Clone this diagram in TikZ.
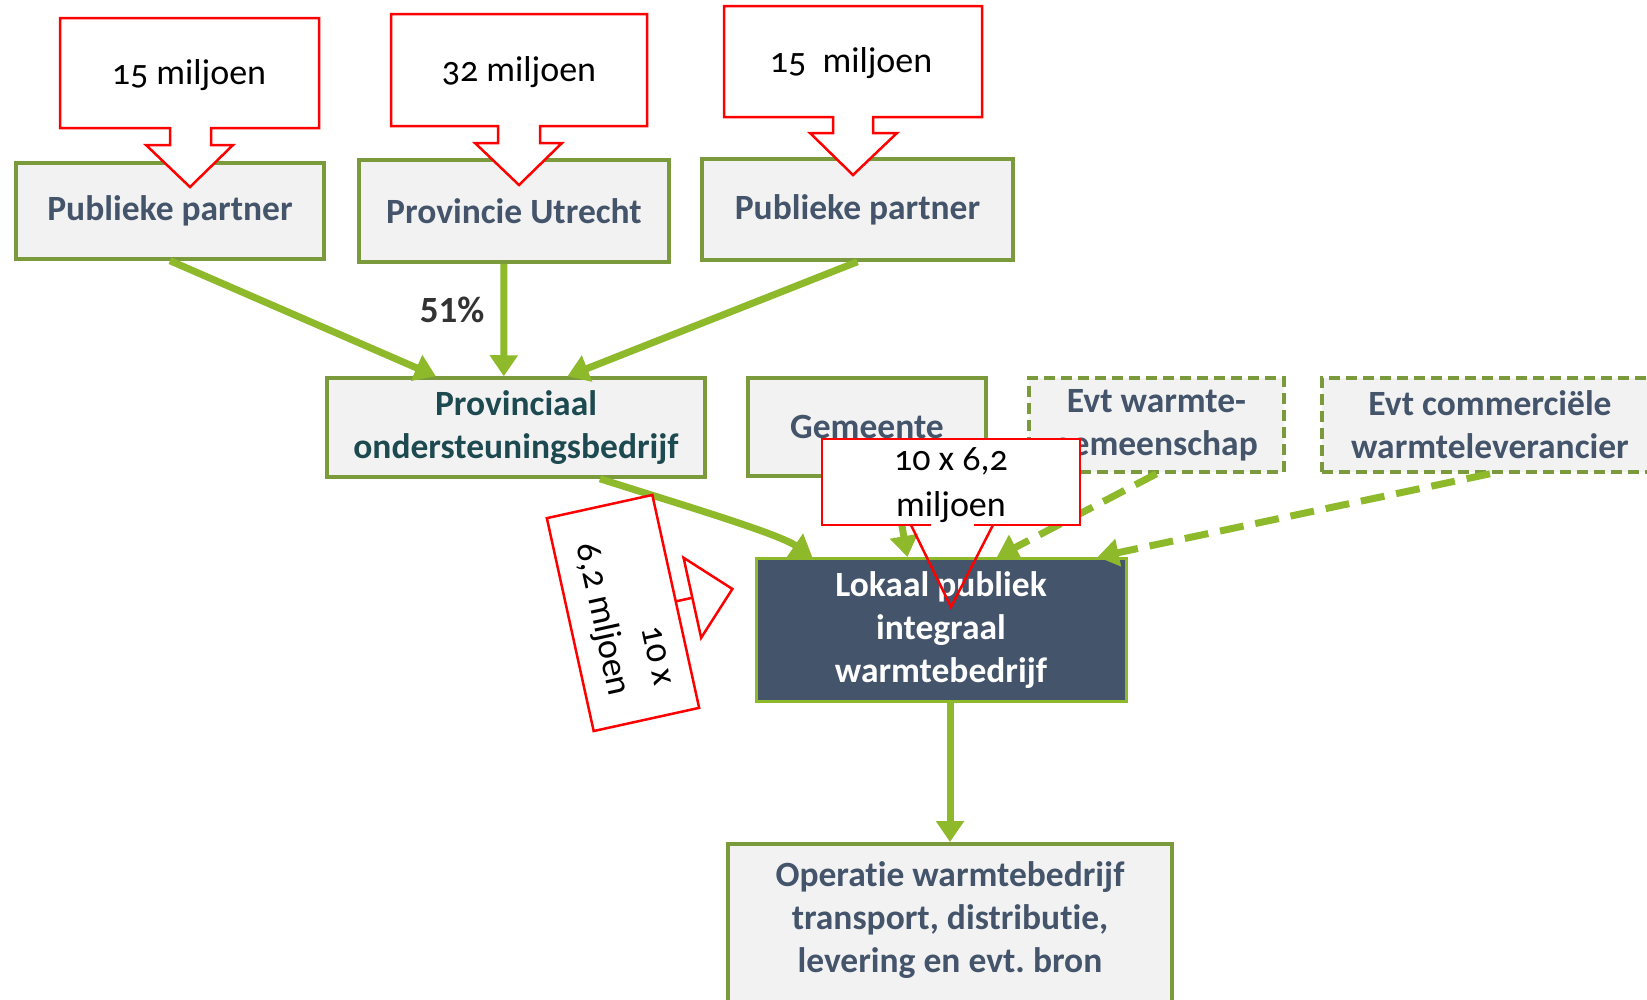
\documentclass[tikz,border=0pt]{standalone}
\usepackage{fontspec}
\setmainfont{Carlito}[Ligatures=NoCommon]
\newfontfamily\calloutfont[Numbers=OldStyle,Ligatures=NoCommon]{Carlito}
\frenchspacing
\usetikzlibrary{arrows.meta,calc}
\definecolor{arrowgreen}{HTML}{8DB92B}
\definecolor{boxborder}{HTML}{7A9A3C}
\definecolor{boxfill}{HTML}{F2F2F2}
\definecolor{slate}{HTML}{44546A}
\definecolor{provteal}{HTML}{1D4A50}
\definecolor{calloutred}{HTML}{FF0000}
\tikzset{
  box/.style={draw=boxborder, fill=boxfill, line width=3.5pt, inner sep=0pt,
    font=\bfseries\fontsize{35.5}{43}\selectfont, text=slate, align=center},
  dbox/.style={box, dash pattern=on 11pt off 6pt},
  garrow/.style={draw=arrowgreen, line width=7pt, -{Triangle[length=21pt,width=27pt]}},
  gdash/.style={garrow, dash pattern=on 24pt off 12pt},
  callout/.style={draw=calloutred, fill=white, line width=2.5pt},
  cline/.style={draw=calloutred, line width=2.5pt},
  ctext/.style={font=\calloutfont\fontsize{36}{46}\selectfont, text=black, align=center, inner sep=0pt}
}
\begin{document}
\begin{tikzpicture}[x=1pt,y=-1pt]
\useasboundingbox (0,0) rectangle (1647,999);
\clip (0,0) rectangle (1647,999);
\fill[white] (0,0) rectangle (1647,999);

% boxes
\node[box, minimum width=308pt, minimum height=96pt] (pp1) at (170,211) {Publieke partner};
\node[box, minimum width=310pt, minimum height=102pt] (pu) at (514,211) {Provincie Utrecht};
\node[box, minimum width=311pt, minimum height=101pt] (pp2) at (857.5,209.5) {Publieke partner};
\node[box, text=provteal, minimum width=378pt, minimum height=99pt] (prov) at (516,427.5) {Provinciaal\\ondersteuningsbedrijf};
\node[box, minimum width=238pt, minimum height=98pt] (gem) at (867,427) {Gemeente};
\node[dbox, minimum width=255pt, minimum height=94pt] (evtw) at (1156.5,425) {Evt warmte-\\gemeenschap};
\node[dbox, minimum width=336pt, minimum height=94pt] (evtc) at (1490,425) {Evt commerciële\\warmteleverancier};
\node[box, fill=slate, draw=arrowgreen, line width=3pt, text=white, minimum width=370pt, minimum height=143pt] (lok) at (941,630) {Lokaal publiek\\integraal\\warmtebedrijf};
\node[box, minimum width=444pt, minimum height=180pt, anchor=north] (op) at (950,842) {};
\node[font=\bfseries\fontsize{35.5}{43}\selectfont, text=slate, align=center, inner sep=0pt] (optext) at (950,920) {Operatie warmtebedrijf\\transport, distributie,\\levering en evt. bron};
\node[font=\bfseries\fontsize{37}{40}\selectfont, text=black!80, inner sep=0pt] (pct) at (452,310) {51\%};

% green connectors
\draw[garrow] (pp1.south) -- ($(prov.north west)!0.29!(prov.north east)$);
\draw[garrow] ($(pu.south west)!0.468!(pu.south east)$) -- ($(prov.north west)!0.468!(prov.north east)$);
\draw[garrow] (pp2.south) -- ($(prov.north west)!0.635!(prov.north east)$);
\draw[garrow] ($(prov.south west)!0.72!(prov.south east)$) .. controls +(75,24) and +(-35,-24) .. ($(lok.north west)!0.155!(lok.north east)$);
\draw[garrow] ($(gem.south west)!0.61!(gem.south east)$) -- ($(lok.north west)!0.41!(lok.north east)$);
\draw[gdash] (evtw.south) -- ($(lok.north west)!0.65!(lok.north east)$);
\draw[gdash] (evtc.south) -- ($(lok.north west)!0.92!(lok.north east)$);
\draw[garrow] (lok.south -| op.north) -- (op.north);

% red callouts
\draw[callout] (60,18) -- (319,18) -- (319,128) -- (211,128) -- (211,145) -- (233,145) -- (190,187) -- (146,145) -- (170,145) -- (170,128) -- (60,128) -- cycle;
\node[ctext] (c1) at (189,75) {15 miljoen};

\draw[callout] (391,14) -- (647,14) -- (647,126) -- (540,126) -- (540,143) -- (562,143) -- (519,185) -- (475,143) -- (498,143) -- (498,126) -- (391,126) -- cycle;
\node[ctext] (c2) at (519,72) {32 miljoen};

\draw[callout] (724,6) -- (982,6) -- (982,117) -- (873,117) -- (873,133) -- (897,133) -- (853,175) -- (810,133) -- (833,133) -- (833,117) -- (724,117) -- cycle;
\node[ctext] (c3) at (851,63) {15~~miljoen};

\fill[white] (822,439) rectangle (1080,525);
\draw[cline] (931,525) -- (822,525) -- (822,439) -- (1080,439) -- (1080,525) -- (974,525);
\draw[cline] (911,525) -- (951,607) -- (993,525);
\node[ctext] (c4) at (951,485) {10 x 6,2\\miljoen};

\begin{scope}[shift={(623,613)}, rotate=-77.6]
\draw[callout] (-109,-54) rectangle (109,54);
\draw[cline] (0,-54) -- (0,-71);
\draw[cline, fill=white] (-41,-71) -- (0,-112) -- (41,-71) -- cycle;
\end{scope}
\node[ctext, rotate=-77.6, align=right] (c5) at (622,615) {10 x\\6,2 mljoen};
\end{tikzpicture}
\end{document}
